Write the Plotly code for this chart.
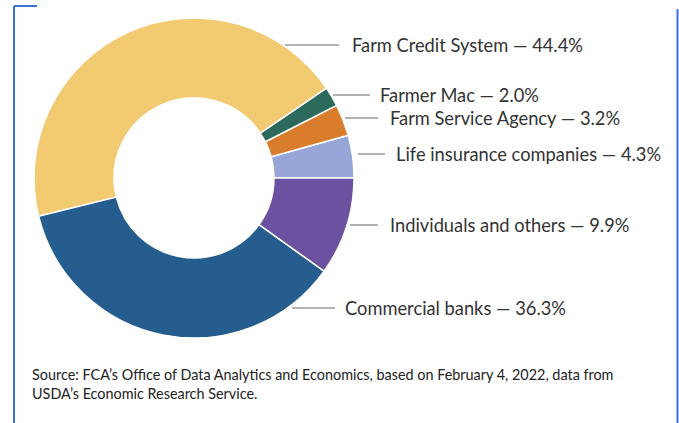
import plotly.graph_objects as go

# Data
categories = ["Life insurance companies", "Farm Service Agency", "Farmer Mac",
              "Farm Credit System", "Commercial banks", "Individuals and others"]
shares = [4.3, 3.2, 2.0, 44.4, 36.3, 9.9]
colors = ["#97A6D7", "#D97D2C", "#2C6A5B", "#F2CA72", "#255E8E", "#6A52A0"]

W, H = 679, 423
CX, CY, R = 194, 178, 160

# label layout (pixel positions): line x0, x1, y, text x
label_layout = {
    "Farm Credit System":       (285, 339, 45, 350),
    "Farmer Mac":               (333, 370, 95, 378),
    "Farm Service Agency":      (345, 378, 118, 388),
    "Life insurance companies": (358, 385, 154, 394),
    "Individuals and others":   (350, 378, 225, 388),
    "Commercial banks":         (292, 335, 308, 343),
}

def px(x):
    return x / W

def py(y):
    return 1 - y / H

# plotly's counterclockwise mode ends the first slice at `rotation`;
# shift so the first slice starts at 3 o'clock.
first_angle = shares[0] / sum(shares) * 360

fig = go.Figure(go.Pie(
    labels=categories,
    values=shares,
    hole=0.5,
    sort=False,
    direction="counterclockwise",
    rotation=90 - first_angle,
    marker=dict(colors=colors, line=dict(color="white", width=1.5)),
    textinfo="none",
    hoverinfo="label+value",
    domain=dict(x=[px(CX - R), px(CX + R)], y=[py(CY + R), py(CY - R)]),
    showlegend=False,
))

shapes = []
annotations = []
for cat, val in zip(categories, shares):
    x0, x1, y, tx = label_layout[cat]
    shapes.append(dict(type="line", xref="paper", yref="paper",
                       x0=px(x0), x1=px(x1), y0=py(y), y1=py(y),
                       line=dict(color="#9a9a9a", width=1.5)))
    annotations.append(dict(xref="paper", yref="paper", x=px(tx), y=py(y),
                            xanchor="left", yanchor="middle", showarrow=False,
                            text=f"{cat} \u2014 {val:.1f}%",
                            font=dict(family="Lato", size=18.3, color="#333333")))

# source note
annotations.append(dict(xref="paper", yref="paper", x=px(30), y=py(364),
                        xanchor="left", yanchor="top", showarrow=False, align="left",
                        text="Source: FCA\u2019s Office of Data Analytics and Economics, based on February 4, 2022, data from<br>USDA\u2019s Economic Research Service.",
                        font=dict(family="Lato", size=14.4, color="#222222")))

# frame lines
frame = "#3B72D9"
shapes += [
    dict(type="line", xref="paper", yref="paper", x0=px(14), x1=px(14), y0=py(6), y1=py(423),
         line=dict(color=frame, width=2)),
    dict(type="line", xref="paper", yref="paper", x0=px(14), x1=px(37), y0=py(6), y1=py(6),
         line=dict(color=frame, width=2)),
    dict(type="line", xref="paper", yref="paper", x0=px(677.5), x1=px(677.5), y0=py(9), y1=py(423),
         line=dict(color=frame, width=2)),
]

fig.update_layout(
    width=W, height=H,
    margin=dict(l=0, r=0, t=0, b=0),
    paper_bgcolor="white", plot_bgcolor="white",
    shapes=shapes, annotations=annotations,
)

fig.write_html("out.html")
